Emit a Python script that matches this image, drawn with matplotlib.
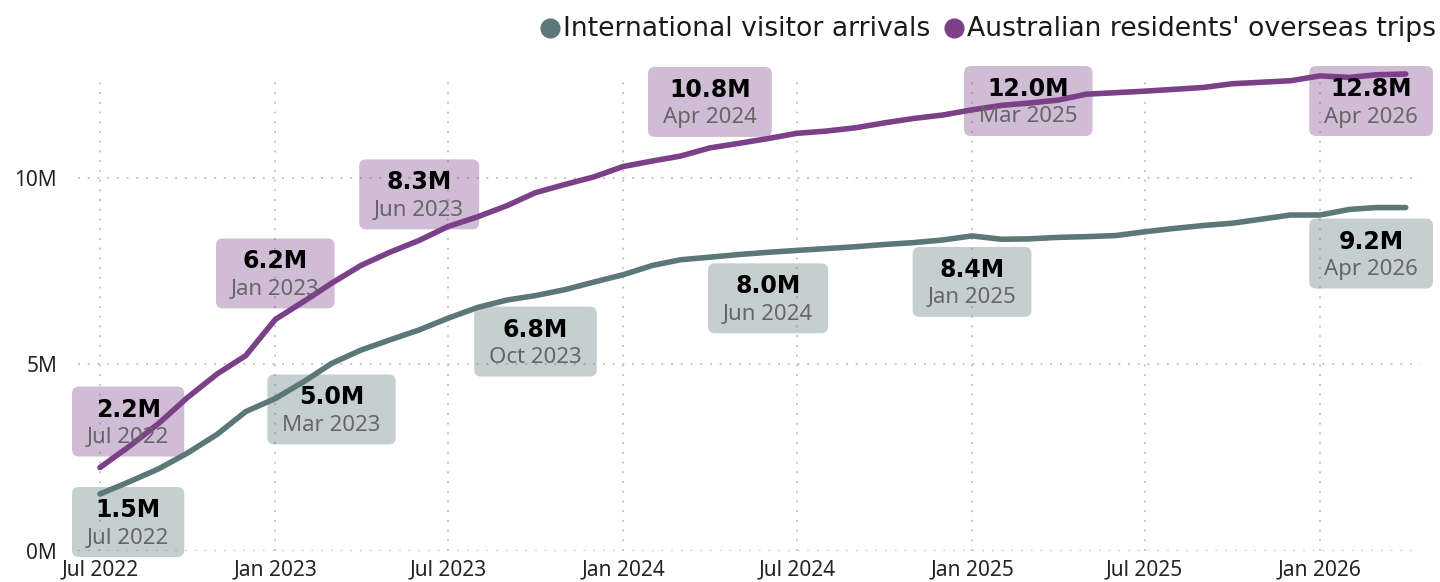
import numpy as np
import pandas as pd
import matplotlib
matplotlib.use("Agg")
import matplotlib.pyplot as plt
import matplotlib.dates as mdates
from matplotlib.patches import FancyBboxPatch
from matplotlib.lines import Line2D
from matplotlib.transforms import IdentityTransform

# ---------------- data ----------------
months = pd.date_range("2022-07-01", "2026-04-01", freq="MS")

# millions
visitor_arrivals = [1.52, 1.85, 2.20, 2.62, 3.12, 3.73, 4.08, 4.55, 5.02, 5.38,
                    5.65, 5.92, 6.23, 6.52, 6.72, 6.84, 7.00, 7.20, 7.40, 7.65,
                    7.80, 7.87, 7.94, 8.00, 8.05, 8.10, 8.15, 8.21, 8.26, 8.33,
                    8.44, 8.35, 8.36, 8.40, 8.42, 8.45, 8.55, 8.64, 8.72, 8.78,
                    8.89, 9.00, 9.00, 9.15, 9.20, 9.20]
resident_trips = [2.23, 2.80, 3.42, 4.11, 4.74, 5.23, 6.20, 6.70, 7.17, 7.65,
                  8.00, 8.32, 8.69, 8.95, 9.25, 9.60, 9.82, 10.02, 10.30, 10.45,
                  10.58, 10.80, 10.92, 11.05, 11.19, 11.25, 11.34, 11.47, 11.59, 11.68,
                  11.82, 11.94, 12.00, 12.08, 12.24, 12.28, 12.32, 12.37, 12.42, 12.52,
                  12.56, 12.60, 12.73, 12.69, 12.76, 12.78]

series_names = ["International visitor arrivals", "Australian residents' overseas trips"]
y_ticks = [0, 5, 10]
y_tick_labels = ["0M", "5M", "10M"]

arrivals_label_idx = [0, 8, 15, 23, 30, 45]
trips_label_idx = [0, 6, 11, 21, 32, 45]

# ---------------- style ----------------
W, H = 1440, 582
GRAY = "#5C7777"
PURPLE = "#7B4088"
GRID = "#c6c6c6"
TICK_COLOR = "#252423"
DATE_COLOR = "#666666"
SANS = ["Noto Sans", "DejaVu Sans"]

fig = plt.figure(figsize=(W / 100, H / 100), dpi=100)
ax_bottom_img, ax_top_img = 550.7, 80.0
ax_left_img, ax_right_img = 78.0, 1420.0
ax = fig.add_axes([ax_left_img / W, (H - ax_bottom_img) / H,
                   (ax_right_img - ax_left_img) / W, (ax_bottom_img - ax_top_img) / H])

ax.set_xlim(pd.Timestamp("2022-06-08"), pd.Timestamp("2026-04-16"))
ax.set_ylim(0, 12.62)

for s in ax.spines.values():
    s.set_visible(False)

ax.xaxis.set_major_locator(mdates.MonthLocator(bymonth=[1, 7]))
ax.xaxis.set_major_formatter(mdates.DateFormatter("%b %Y"))
ax.set_yticks(y_ticks)
ax.set_yticklabels(y_tick_labels)
ax.tick_params(axis="both", length=0, colors=TICK_COLOR, labelsize=15)
ax.tick_params(axis="y", pad=15)
ax.tick_params(axis="x", pad=6)
for lab in ax.get_xticklabels() + ax.get_yticklabels():
    lab.set_family(SANS)

ax.set_axisbelow(True)
ax.grid(True, which="major", axis="both", color=GRID, linestyle=(0, (1, 4)), linewidth=1.4)

ax.plot(months, visitor_arrivals, color=GRAY, lw=4.0, solid_capstyle="round",
        solid_joinstyle="round", clip_on=False, zorder=3)
ax.plot(months, resident_trips, color=PURPLE, lw=4.0, solid_capstyle="round",
        solid_joinstyle="round", clip_on=False, zorder=3)

# ---------------- data labels ----------------
fig.canvas.draw()
renderer = fig.canvas.get_renderer()
ident = IdentityTransform()

BOX_H = 70
GAP = 11
TOP_LIMIT = 66
BOTTOM_LIMIT = 557
LEFT_LIMIT = 72
RIGHT_LIMIT = 1433


def add_label(idx, values, color, above):
    d = months[idx]
    v = values[idx]
    px, py = ax.transData.transform((mdates.date2num(d), v))
    py_img = H - py
    t_val = ax.text(0, 0, f"{v:.1f}M", transform=ident, ha="center", va="center",
                    fontsize=17, fontweight="bold", family="DejaVu Sans",
                    color="black", zorder=5, clip_on=False)
    t_date = ax.text(0, 0, d.strftime("%b %Y"), transform=ident, ha="center", va="center",
                     fontsize=16, family=SANS, color=DATE_COLOR, zorder=5, clip_on=False)
    w = max(t_val.get_window_extent(renderer).width,
            t_date.get_window_extent(renderer).width) + 30
    left = px - w / 2
    left = max(left, LEFT_LIMIT)
    if left + w > RIGHT_LIMIT:
        left = RIGHT_LIMIT - w
    if above:
        top = py_img - GAP - BOX_H
    else:
        top = py_img + GAP
    top = max(top, TOP_LIMIT)
    if top + BOX_H > BOTTOM_LIMIT:
        top = BOTTOM_LIMIT - BOX_H
    box = FancyBboxPatch((left, H - top - BOX_H), w, BOX_H,
                         boxstyle="round,pad=0,rounding_size=7",
                         transform=ident, facecolor=color, alpha=0.35,
                         edgecolor="none", zorder=2, clip_on=False)
    ax.add_patch(box)
    cx = left + w / 2
    t_val.set_position((cx, H - (top + 23)))
    t_date.set_position((cx, H - (top + 51)))


for i in arrivals_label_idx:
    add_label(i, visitor_arrivals, GRAY, above=False)
for i in trips_label_idx:
    add_label(i, resident_trips, PURPLE, above=True)

# ---------------- legend ----------------
leg_base_img = 36
leg_dot_img = 27.5
for right_x, name, col in [(930.0, series_names[0], GRAY),
                           (1436.0, series_names[1], PURPLE)]:
    t = fig.text(right_x / W, (H - leg_base_img) / H, name, ha="right", va="baseline",
                 fontsize=19.2, family="DejaVu Sans", color="#1a1a1a")
    tw = t.get_window_extent(renderer).width
    dot_x = right_x - tw - 13
    fig.add_artist(Line2D([dot_x / W], [(H - leg_dot_img) / H], marker="o",
                          markersize=13.5, color=col, linestyle="none",
                          transform=fig.transFigure))

fig.savefig("out.png", dpi=100)
